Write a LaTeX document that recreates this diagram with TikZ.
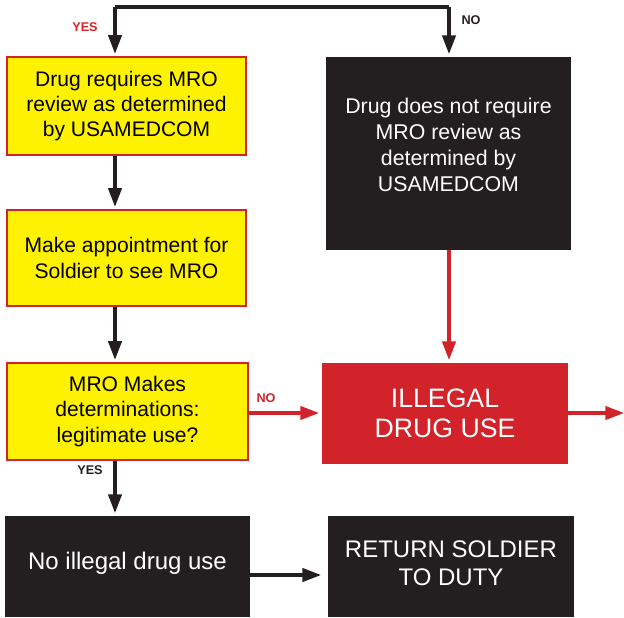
\documentclass[tikz,border=0pt]{standalone}
\usepackage{fontspec}
\setmainfont{Liberation Sans}
\usetikzlibrary{arrows.meta}
\definecolor{flowred}{RGB}{210,35,42}
\definecolor{flowyellow}{RGB}{255,242,0}
\definecolor{flowblack}{RGB}{35,31,32}
\begin{document}
\begin{tikzpicture}[x=0.75pt,y=0.75pt,yscale=-1,xscale=1,
  askbox/.style={draw=flowred,line width=0.8pt,fill=flowyellow,text=black,align=center,inner sep=0pt,
    font=\fontsize{15.8}{19}\selectfont},
  darkbox/.style={fill=flowblack,text=white,align=center,inner sep=0pt,
    font=\fontsize{16}{19.5}\selectfont},
  bigbox/.style={fill=flowblack,text=white,align=center,inner sep=0pt,
    font=\fontsize{18}{21}\selectfont},
  alertbox/.style={fill=flowred,text=white,align=center,inner sep=0pt,
    font=\fontsize{20}{22.5}\selectfont},
  arr/.style={draw=flowblack,line width=2.3pt,-{Triangle[length=14pt,width=10pt]},shorten >=2pt},
  rarr/.style={draw=flowred,line width=2.3pt,-{Triangle[length=14pt,width=10pt]},shorten >=2pt},
  tag/.style={font=\fontsize{9.5}{11}\selectfont\bfseries}]
\useasboundingbox (0,0) rectangle (624,617);

% yes / no split at the top
\coordinate (tl) at (115,7);
\coordinate (tr) at (449,7);

% left column
\node[askbox,minimum width=179.25pt,minimum height=73.5pt] (req) at (126.5,106) {Drug requires MRO\\review as determined\\by USAMEDCOM};
\node[askbox,minimum width=179.25pt,minimum height=72pt] (appt) at (126.5,258) {Make appointment for\\Soldier to see MRO};
\node[askbox,minimum width=180.75pt,minimum height=72.75pt] (mro) at (127.5,411.5) {MRO Makes\\determinations:\\legitimate use?};
\node[bigbox,minimum width=183.75pt,minimum height=75.75pt] (legal) at (127.5,566.5) {No illegal drug use\\[-13pt]};

% right column
\node[darkbox,minimum width=183.75pt,minimum height=144.75pt] (noreq) at (448.5,153.5) {Drug does not require\\MRO review as\\determined by\\USAMEDCOM\\[-6.7pt]};
\node[alertbox,minimum width=184.5pt,minimum height=75.75pt] (illegal) at (445,413.5) {ILLEGAL\\DRUG USE};
\node[bigbox,minimum width=184.5pt,minimum height=75.75pt] (duty) at (451,566.5) {RETURN SOLDIER\\TO DUTY\\[-15.75pt]};
\coordinate (exit) at (624,413);

% connectors
\draw[draw=flowblack,line width=2.3pt] (tl) -- (tr);
\draw[arr] (tl) -- (tl |- req.north);
\draw[arr] (tr) -- (tr |- noreq.north);
\draw[arr] (req.south -| tl) -- (appt.north -| tl);
\draw[arr] (appt.south -| tl) -- (mro.north -| tl);
\draw[arr] (mro.south -| tl) -- (legal.north -| tl);
\draw[rarr] (mro.east |- exit) -- (illegal.west |- exit);
\draw[rarr] (noreq.south -| tr) -- (illegal.north -| tr);
\draw[rarr,shorten >=0pt] (illegal.east |- exit) -- (exit);
\draw[arr,shorten >=5pt] (legal.east |- 0,575) -- (duty.west |- 0,575);

% labels
\node[tag,text=flowred] (yes1) at (85,27) {YES};
\node[tag,text=flowblack] (no1) at (471,20) {NO};
\node[tag,text=flowred] (no2) at (266,398) {NO};
\node[tag,text=flowblack] (yes2) at (90,470) {YES};
\end{tikzpicture}
\end{document}
